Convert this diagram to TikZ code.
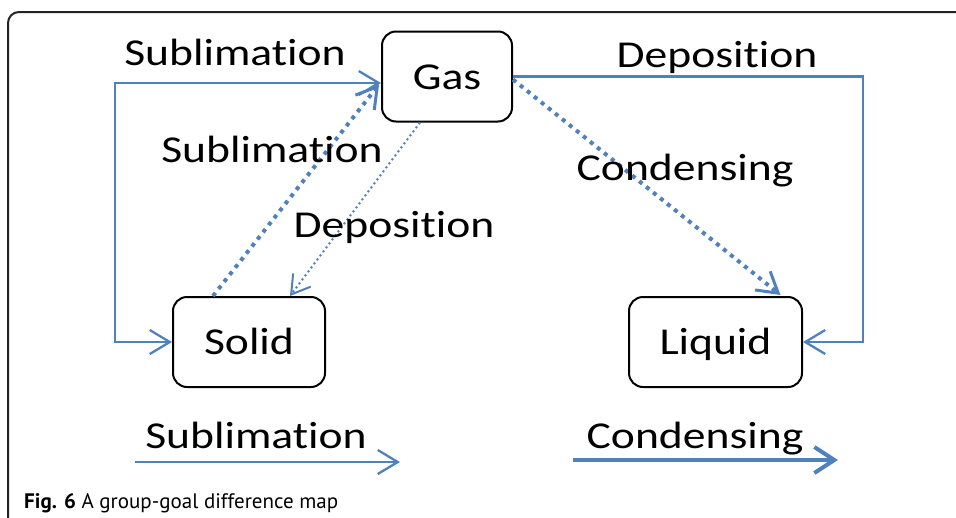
\documentclass[tikz,border=0pt]{standalone}
\usepackage{fontspec}
\setmainfont{Carlito}[FakeStretch=1.2, Ligatures={NoCommon}]
\newfontfamily\capfont{PT Sans}
\usetikzlibrary{arrows.meta,calc}
\definecolor{flow}{RGB}{79,129,189}
\definecolor{framegray}{RGB}{35,35,35}
% keep "t" and "i" as separate letters
\newcommand\tiapart{t\kern0pt i}
\begin{document}
\begin{tikzpicture}[x=1pt,y=-1pt,
  every node/.style={inner sep=0pt, font=\fontsize{38}{44}\selectfont},
  phase/.style={draw=black, line width=2pt, rounded corners=14pt,
    minimum height=90pt, text height=25pt, text depth=0pt},
  word/.style={anchor=base},
  barb/.style={-{Straight Barb[length=20pt,width=24pt]}},
  link/.style={draw=flow, line width=2.3pt, barb},
  thickdots/.style={draw=flow, line width=4pt, dash pattern=on 4pt off 5pt,
    -{Straight Barb[length=20pt,width=24pt,line width=3pt]}},
  thindots/.style={draw=flow, line width=2pt, dash pattern=on 2pt off 3pt,
    -{Straight Barb[length=18pt,width=22pt]}}]
\useasboundingbox (0,0) rectangle (956,517);

% outer frame
\draw[framegray, line width=2pt, rounded corners=11pt] (8,530) -- (8,12) -- (970,12);

% phases
\node[phase, minimum width=130pt] (gas) at (447,76.5) {Gas};
\node[phase, minimum width=152pt] (solid) at (249,342) {Solid};
\node[phase, minimum width=173pt] (liquid) at (715.5,342) {Liquid};

% corners of the bracket connectors
\coordinate (lft) at (115,83);
\coordinate (rgt) at (863,77);

% bracket connectors
\draw[link, {Straight Barb[length=20pt,width=24pt]}-{Straight Barb[length=20pt,width=24pt]}]
  (gas.west |- lft) -| (lft |- solid.west) -- (solid.west);
\draw[link] (gas.east) -| (rgt |- liquid.east) -- (liquid.east);

% dotted connectors
\draw[thickdots] ($(solid.north)+(-36,0)$) -- ($(gas.west)+(-2,8)$);
\draw[thindots] ($(gas.south)+(-27,0)$) -- ($(solid.north)+(41,0)$);
\draw[thickdots] ($(gas.east)+(0,3)$) -- ($(liquid.north)+(65,-1)$);

% labels
\node[word] (subtop) at (235,65) {Sublima\tiapart on};
\node[word] (submid) at (272,162) {Sublima\tiapart on};
\node[word] (depmid) at (394,237) {Deposi\tiapart on};
\node[word] (deptop) at (717,67) {Deposi\tiapart on};
\node[word] (conmid) at (685,180) {Condensing};

% key
\coordinate (ks1) at (135,462);
\coordinate (ks2) at (400,462);
\coordinate (kc1) at (573,460);
\coordinate (kc2) at (838,460);
\draw[link] (ks1) -- (ks2);
\draw[draw=flow, line width=4pt, -{Straight Barb[length=20pt,width=26pt]}] (kc1) -- (kc2);
\node[word] (subbot) at (256,448) {Sublima\tiapart on};
\node[word] (conbot) at (695,448) {Condensing};

% caption
\node[anchor=base west, font=\capfont\fontsize{21}{24}\selectfont] (cap) at (24,508)
  {\textbf{Fig. 6} A group-goal difference map};
\end{tikzpicture}
\end{document}
